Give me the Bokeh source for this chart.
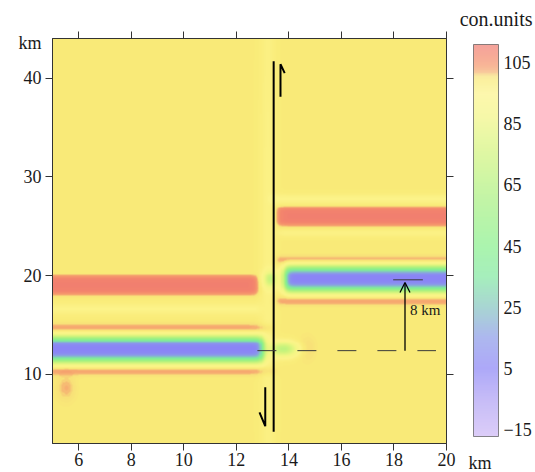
import numpy as np
from bokeh.plotting import figure
from bokeh.models import (Range1d, LinearColorMapper, ColorBar, FixedTicker, LinearAxis,
                          Label, Arrow, OpenHead, Title)
from bokeh.embed import file_html
from bokeh.resources import INLINE

# ---------------- data ----------------
x_min, x_max = 5.0, 20.0
y_min, y_max = 3.0, 44.0
x_ticks = [6, 8, 10, 12, 14, 16, 18, 20]
y_ticks = [10, 20, 30, 40]
y_unit_pos = 43.5
cbar_ticks = [-15, 5, 25, 45, 65, 85, 105]
c_low, c_high = -17.3, 110.9
background_level = 99.0

# horizontal anomaly bands: centre y, x start, x end, amplitude, half width, shape exponent
band_y   = [19.0, 12.5, 14.7, 10.3, 16.6, 26.0, 19.65, 21.6, 17.4, 27.8, 24.3]
band_x0  = [4.0,  4.0,  4.0,  4.0,  4.0,  13.6, 13.85, 13.5, 13.5, 13.3, 13.6]
band_x1  = [12.8, 13.0, 13.4, 13.5, 12.9, 21.0, 21.0,  21.0, 21.0, 21.0, 21.0]
band_amp = [10.5, -94., 3.8,  3.8,  -4.0, 10.5, -94.,  3.8,  3.8,  -4.0, -3.0]
band_w   = [0.95, 1.25, 0.45, 0.45, 0.6,  0.95, 1.25,  0.45, 0.45, 0.5,  0.4]
band_p   = [4,    3,    2,    2,    2,    4,    3,     2,    2,    2,    2]

# local blobs: x, y, amplitude, sx, sy
blob_x   = [13.8, 13.3, 14.7, 5.5, 13.2]
blob_y   = [12.5, 19.6, 12.6, 8.6, 23.0]
blob_amp = [-30., -25., 2.5, 3.0, -3.0]
blob_sx  = [0.5,  0.25, 0.3, 0.35, 0.3]
blob_sy  = [0.7,  0.8,  1.2, 1.3, 40.0]

# fault and annotations
fault_x = [13.42, 13.42]
fault_y = [4.2, 41.7]
up_harpoon_x = [13.68, 13.68, 13.84]
up_harpoon_y = [38.1, 41.4, 40.5]
down_harpoon_x = [13.1, 13.1, 12.88]
down_harpoon_y = [8.7, 4.75, 6.15]
offset_line_x = [12.8, 19.6]
offset_line_y = [12.4, 12.4]
marker_line_x = [17.97, 19.1]
marker_line_y = [19.57, 19.57]
shift_arrow_x = 18.42
shift_arrow_y = [12.4, 19.3]
shift_label = "8 km"
shift_label_pos = (18.61, 15.66)

# ---------------- field ----------------
xs = np.arange(x_min, x_max + 1e-9, 0.04)
ys = np.arange(y_min, y_max + 1e-9, 0.1)
X, Y = np.meshgrid(xs, ys)
Z = np.full(X.shape, background_level)
s = 0.15
for yc, x0, x1, a, w, pw in zip(band_y, band_x0, band_x1, band_amp, band_w, band_p):
    xprof = 0.5 * (np.tanh((X - x0) / s) - np.tanh((X - x1) / s))
    yprof = np.exp(-np.abs((Y - yc) / w) ** pw)
    Z += a * xprof * yprof
for bx, by, a, sx, sy in zip(blob_x, blob_y, blob_amp, blob_sx, blob_sy):
    Z += a * np.exp(-((X - bx) / sx) ** 2 - ((Y - by) / sy) ** 2)
Z = np.clip(Z, c_low, c_high)

# ---------------- palette ----------------
anchors = [(-17.3, "#cdb8f5"), (-5, "#ad9ff4"), (5, "#8a84f6"), (15, "#8a9ae8"),
           (25, "#84c4c0"), (35, "#80e8a0"), (45, "#88f08c"), (60, "#a8f080"),
           (75, "#d0f47c"), (88, "#f4f684"), (95, "#fcf48a"), (99, "#f9ec78"),
           (101, "#f8e078"), (102, "#f6b472"), (104, "#f5986c"), (107, "#f4886c"),
           (110.9, "#f07c70")]
av = np.array([a[0] for a in anchors])
ac = np.array([[int(c[1:3], 16), int(c[3:5], 16), int(c[5:7], 16)] for _, c in anchors])
vals = np.linspace(c_low, c_high, 256)
palette = []
for v in vals:
    rgb = [int(round(np.interp(v, av, ac[:, k]))) for k in range(3)]
    palette.append("#%02x%02x%02x" % tuple(rgb))

mapper = LinearColorMapper(palette=palette, low=c_low, high=c_high)

FONT = "Liberation Serif"
TXT = "#1a1a1a"
AX = "#333333"

p = figure(width=535, height=472, output_backend="svg", toolbar_location=None,
           x_range=Range1d(x_min, x_max), y_range=Range1d(y_min, y_max),
           min_border_left=52, min_border_right=89, min_border_top=38, min_border_bottom=29)
p.grid.visible = False
p.outline_line_color = AX
p.background_fill_color = "#f9ec78"

p.image(image=[Z.astype(np.float32)], x=x_min, y=y_min, dw=x_max - x_min, dh=y_max - y_min,
        color_mapper=mapper)

# bottom axis
xa = p.xaxis[0]
xa.ticker = FixedTicker(ticks=x_ticks)
xa.major_label_text_font = FONT
xa.major_label_text_font_size = "18px"
xa.major_label_text_color = TXT
xa.major_tick_out = 7
xa.major_tick_in = 0
xa.minor_tick_line_color = None
xa.axis_line_color = AX
xa.major_tick_line_color = AX
xa.major_label_standoff = 2

# left axis: tick marks only (closest to frame)
ya = p.yaxis[0]
ya.ticker = FixedTicker(ticks=y_ticks)
ya.major_label_text_font_size = "0px"
ya.major_label_overrides = {t: "" for t in y_ticks}
ya.major_tick_out = 7
ya.major_tick_in = 0
ya.major_label_standoff = 0
ya.minor_tick_line_color = None
ya.axis_line_color = AX
ya.major_tick_line_color = AX

# left labels (with the unit "km" at the top)
y_labels = LinearAxis(ticker=FixedTicker(ticks=y_ticks + [y_unit_pos]),
                      major_label_overrides={y_unit_pos: "km"},
                      major_label_text_font=FONT, major_label_text_font_size="18px",
                      major_label_text_color=TXT, major_tick_line_color=None,
                      minor_tick_line_color=None, axis_line_color=None,
                      major_tick_out=0, major_tick_in=0, major_label_standoff=4)
p.add_layout(y_labels, "left")

top_axis = LinearAxis(ticker=FixedTicker(ticks=x_ticks), major_label_text_font_size="0px",
                      major_label_overrides={t: "" for t in x_ticks},
                      major_tick_out=7, major_tick_in=0, minor_tick_line_color=None,
                      axis_line_color=AX, major_tick_line_color=AX,
                      major_label_standoff=0)
right_axis = LinearAxis(ticker=FixedTicker(ticks=y_ticks), major_label_text_font_size="0px",
                        major_label_overrides={t: "" for t in y_ticks},
                        major_tick_out=7, major_tick_in=0, minor_tick_line_color=None,
                        axis_line_color=AX, major_tick_line_color=AX,
                        major_label_standoff=0)
p.add_layout(top_axis, "above")
p.add_layout(right_axis, "right")

# colour-bar caption as a right-aligned title above the frame
p.add_layout(Title(text="con.units", align="right", offset=-86, standoff=3,
                   text_font=FONT, text_font_size="20px", text_font_style="normal",
                   text_color=TXT), "above")

# fault line and harpoons
p.line(fault_x, fault_y, line_color="black", line_width=2)
p.line(up_harpoon_x, up_harpoon_y, line_color="black", line_width=2)
p.line(down_harpoon_x, down_harpoon_y, line_color="black", line_width=2)
# offset lines
p.line(offset_line_x, offset_line_y, line_color="#3a3a3a", line_width=1, line_dash="19 21")
p.line(marker_line_x, marker_line_y, line_color="#3a3a3a", line_width=1)
p.add_layout(Arrow(end=OpenHead(size=10, line_width=1.3, line_color="black"),
                   x_start=shift_arrow_x, y_start=shift_arrow_y[0],
                   x_end=shift_arrow_x, y_end=shift_arrow_y[1],
                   line_color="black", line_width=1.3))
p.add_layout(Label(x=shift_label_pos[0], y=shift_label_pos[1], text=shift_label,
                   text_font=FONT, text_font_size="15px", text_color=TXT))

cbar = ColorBar(color_mapper=mapper, ticker=FixedTicker(ticks=cbar_ticks),
                location=(421, 7), width=25, height=392, padding=0, margin=0,
                scale_alpha=0.7, bar_line_color="#555555", bar_line_width=1,
                major_tick_line_color=None, minor_tick_line_color=None,
                label_standoff=5, major_label_text_font=FONT,
                major_label_text_font_size="18px", major_label_text_color=TXT,
                background_fill_color=None, border_line_color=None)
p.add_layout(cbar, "center")

# x unit "km" at the bottom-right corner, carried by a blank one-tick scale
unit_mapper = LinearColorMapper(palette=["#ffffff"], low=0, high=1)
unit_bar = ColorBar(color_mapper=unit_mapper, ticker=FixedTicker(ticks=[0.5]),
                    major_label_overrides={0.5: "km"}, location=(415, -28),
                    width=1, height=18, padding=0, margin=0, scale_alpha=0,
                    bar_line_color=None, major_tick_line_color=None,
                    minor_tick_line_color=None, label_standoff=0,
                    major_label_text_font=FONT, major_label_text_font_size="18px",
                    major_label_text_color=TXT, background_fill_color=None,
                    border_line_color=None)
p.add_layout(unit_bar, "center")

open("out.html", "w").write(file_html(p, INLINE))
